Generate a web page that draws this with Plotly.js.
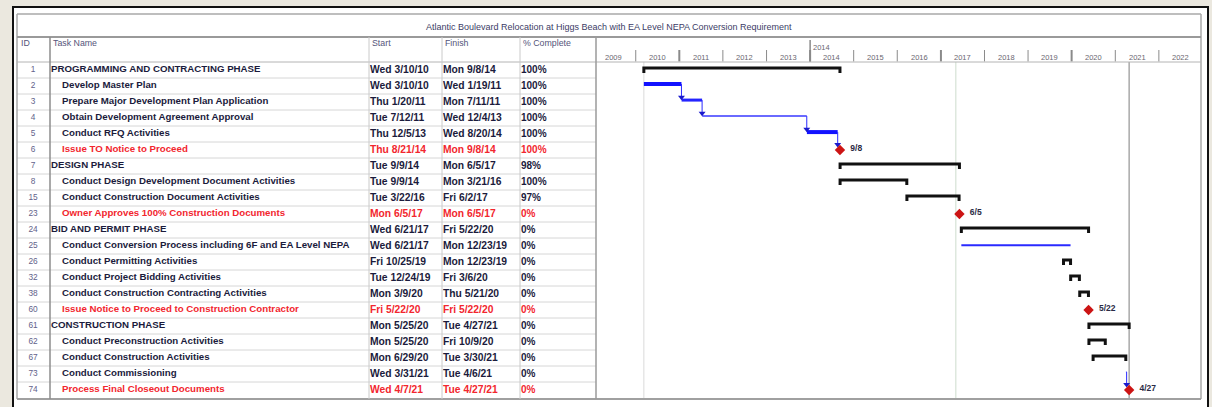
<!DOCTYPE html>
<html><head><meta charset="utf-8">
<script src="https://cdn.plot.ly/plotly-3.0.1.min.js"></script>
<style>html,body{margin:0;padding:0;background:#ebe8df;}#chart{width:1212px;height:407px;}</style>
</head><body><div id="chart"></div>
<script>
const W = 1212, H = 407;

const chartTitle = 'Atlantic Boulevard Relocation at Higgs Beach with EA Level NEPA Conversion Requirement';
const columnHeads = ['ID', 'Task Name', 'Start', 'Finish', '% Complete'];

const taskIds = [1, 2, 3, 4, 5, 6, 7, 8, 15, 23, 24, 25, 26, 32, 38, 60, 61, 62, 67, 73, 74];
const taskNames = [
  'PROGRAMMING AND CONTRACTING PHASE',
  'Develop Master Plan',
  'Prepare Major Development Plan Application',
  'Obtain Development Agreement Approval',
  'Conduct RFQ Activities',
  'Issue TO Notice to Proceed',
  'DESIGN PHASE',
  'Conduct Design Development Document Activities',
  'Conduct Construction Document Activities',
  'Owner Approves 100% Construction Documents',
  'BID AND PERMIT PHASE',
  'Conduct Conversion Process including 6F and EA Level NEPA',
  'Conduct Permitting Activities',
  'Conduct Project Bidding Activities',
  'Conduct Construction Contracting Activities',
  'Issue Notice to Proceed to Construction Contractor',
  'CONSTRUCTION PHASE',
  'Conduct Preconstruction Activities',
  'Conduct Construction Activities',
  'Conduct Commissioning',
  'Process Final Closeout Documents'
];
const startText = ['Wed 3/10/10','Wed 3/10/10','Thu 1/20/11','Tue 7/12/11','Thu 12/5/13','Thu 8/21/14','Tue 9/9/14','Tue 9/9/14','Tue 3/22/16','Mon 6/5/17','Wed 6/21/17','Wed 6/21/17','Fri 10/25/19','Tue 12/24/19','Mon 3/9/20','Fri 5/22/20','Mon 5/25/20','Mon 5/25/20','Mon 6/29/20','Wed 3/31/21','Wed 4/7/21'];
const finishText = ['Mon 9/8/14','Wed 1/19/11','Mon 7/11/11','Wed 12/4/13','Wed 8/20/14','Mon 9/8/14','Mon 6/5/17','Mon 3/21/16','Fri 6/2/17','Mon 6/5/17','Fri 5/22/20','Mon 12/23/19','Mon 12/23/19','Fri 3/6/20','Thu 5/21/20','Fri 5/22/20','Tue 4/27/21','Fri 10/9/20','Tue 3/30/21','Tue 4/6/21','Tue 4/27/21'];
const pctComplete = ['100%','100%','100%','100%','100%','100%','98%','100%','97%','0%','0%','0%','0%','0%','0%','0%','0%','0%','0%','0%','0%'];
const startDates = ['2010-03-10','2010-03-10','2011-01-20','2011-07-12','2013-12-05','2014-08-21','2014-09-09','2014-09-09','2016-03-22','2017-06-05','2017-06-21','2017-06-21','2019-10-25','2019-12-24','2020-03-09','2020-05-22','2020-05-25','2020-05-25','2020-06-29','2021-03-31','2021-04-07'];
const finishDates = ['2014-09-08','2011-01-19','2011-07-11','2013-12-04','2014-08-20','2014-09-08','2017-06-05','2016-03-21','2017-06-02','2017-06-05','2020-05-22','2019-12-23','2019-12-23','2020-03-06','2020-05-21','2020-05-22','2021-04-27','2020-10-09','2021-03-30','2021-04-06','2021-04-27'];
const taskKinds = ['summary','progress','progress','progress','progress','milestone','summary','task','task','milestone','summary','line','task','task','task','milestone','summary','task','task','stub','milestone'];
const taskLinks = [[1,2],[2,3],[3,4],[4,5],[19,20]];
const yearLabels = [2009,2010,2011,2012,2013,2014,2015,2016,2017,2018,2019,2020,2021,2022];
const topTierLabel = '2014';
const statusDate = '2017-05-06';

// ---- styling helpers ----
const px = x => x / W;
const py = y => 1 - y / H;
const FONT = 'Liberation Sans, Arial, sans-serif';
const navy = '#1b1b3c', red = '#f2262e';
const n = taskNames.length;
const rows = taskNames.map((_, i) => i);
const rowColor = taskKinds.map(k => k === 'milestone' ? red : navy);
const progressStyle = {1: {w: 4, c: '#1212ff'}, 2: {w: 3, c: '#2424ff'}, 3: {w: 2, c: '#6a6aff'}, 4: {w: 4, c: '#1212ff'}};

const traces = [];
function txt(xs, texts, pos, size, colors, bold) {
  traces.push({type: 'scatter', mode: 'text', xaxis: 'x2', yaxis: 'y', x: xs, y: rows,
    text: texts.map(t => bold ? '<b>' + t + '</b>' : t), textposition: pos,
    textfont: {family: FONT, size: size, color: colors}, hoverinfo: 'skip', cliponaxis: false});
}
txt(rows.map(() => 33), taskIds.map(String), 'middle center', 8.3, '#62628a', false);
txt(taskKinds.map(k => k === 'summary' ? 51 : 62), taskNames, 'middle right', 9.7, rowColor, true);
txt(rows.map(() => 370), startText, 'middle right', 10.3, rowColor, true);
txt(rows.map(() => 443), finishText, 'middle right', 10.3, rowColor, true);
txt(rows.map(() => 521), pctComplete, 'middle right', 10, rowColor, true);

// brackets for summary / task bars
const bx = [], by = [];
rows.forEach(i => {
  if (taskKinds[i] === 'summary' || taskKinds[i] === 'task') {
    bx.push(startDates[i], startDates[i], finishDates[i], finishDates[i], null);
    by.push(i + 0.18, i - 0.13, i - 0.13, i + 0.18, null);
  }
});
traces.push({type: 'scatter', mode: 'lines', x: bx, y: by, line: {color: '#111', width: 3}, hoverinfo: 'skip'});

// progress bars
rows.forEach(i => {
  if (taskKinds[i] === 'progress') {
    const s = progressStyle[i];
    traces.push({type: 'scatter', mode: 'lines', x: [startDates[i], finishDates[i]], y: [i - 0.12, i - 0.12],
      line: {color: s.c, width: s.w}, hoverinfo: 'skip'});
  }
  if (taskKinds[i] === 'line') {
    traces.push({type: 'scatter', mode: 'lines', x: [startDates[i], finishDates[i]], y: [i - 0.05, i - 0.05],
      line: {color: '#2a2aff', width: 2}, hoverinfo: 'skip'});
  }
  if (taskKinds[i] === 'stub') {
    traces.push({type: 'scatter', mode: 'lines', x: [startDates[i], finishDates[i]], y: [i - 0.12, i - 0.12],
      line: {color: '#5a5aff', width: 1.5}, hoverinfo: 'skip'});
  }
});

// dependency links
const lx = [], ly = [], ax = [], ay = [];
taskLinks.forEach(([a, b]) => {
  const end = taskKinds[b] === 'milestone' ? b - 0.35 : b - 0.3;
  lx.push(finishDates[a], finishDates[a], null);
  ly.push(a - 0.12, end, null);
  ax.push(finishDates[a]); ay.push(end);
});
traces.push({type: 'scatter', mode: 'lines', x: lx, y: ly, line: {color: '#2a2aff', width: 1}, hoverinfo: 'skip'});
traces.push({type: 'scatter', mode: 'markers', x: ax, y: ay, marker: {symbol: 'triangle-down', size: 6, color: '#1a1acc'}, hoverinfo: 'skip'});

// milestones
const mRows = rows.filter(i => taskKinds[i] === 'milestone');
traces.push({type: 'scatter', mode: 'markers', x: mRows.map(i => finishDates[i]), y: mRows.map(i => i),
  marker: {symbol: 'diamond', size: 8, color: '#cc1414'}, hoverinfo: 'skip'});
traces.push({type: 'scatter', mode: 'markers+text', x: mRows.map(i => finishDates[i]), y: mRows.map(i => i - 0.05),
  marker: {size: 15, opacity: 0},
  text: mRows.map(i => '<b>' + finishText[i].split(' ')[1].split('/').slice(0, 2).join('/') + '</b>'),
  textposition: 'middle right', textfont: {family: FONT, size: 8.5, color: '#2a2a44'}, hoverinfo: 'skip', cliponaxis: false});

// ---- shapes ----
const shapes = [];
const L = (x0, y0, x1, y1, color, width) => shapes.push({type: 'line', xref: 'paper', yref: 'paper',
  x0: px(x0), y0: py(y0), x1: px(x1), y1: py(y1), line: {color: color, width: width}});
shapes.push({type: 'rect', xref: 'paper', yref: 'paper', x0: px(13), y0: py(7), x1: px(1208), y1: py(440),
  fillcolor: '#ffffff', line: {color: '#111', width: 2}, layer: 'below'});
// row separators
for (let k = 1; k < n; k++) {
  shapes.push({type: 'line', xref: 'paper', yref: 'y', x0: px(17), x1: px(596), y0: k - 0.5, y1: k - 0.5,
    line: {color: '#d6d6d6', width: 1}, layer: 'below'});
}
L(17, 14, 1201, 14, '#a8a8a8', 1.5);
L(17, 14, 17, 399, '#a8a8a8', 1.5);
L(1201, 14, 1201, 399, '#a8a8a8', 1.5);
L(17, 37, 1201, 37, '#9a9a9a', 2);
L(17, 62, 1201, 62, '#b4b4b4', 1);
L(17, 399, 1201, 399, '#a0a0a0', 2);
L(50, 37, 50, 399, '#8c8c8c', 1.5);
[369, 442, 520].forEach(x => L(x, 37, x, 399, '#cacaca', 1));
L(596, 37, 596, 399, '#9a9a9a', 1.5);

// gantt vertical guides
const VL = (d, color, width, y0, y1) => shapes.push({type: 'line', xref: 'x', yref: 'paper', x0: d, x1: d,
  y0: py(y0), y1: py(y1), line: {color: color, width: width}, layer: 'below'});
VL(startDates[0], '#dadada', 1, 62, 399);
VL(statusDate, '#cddccd', 1, 62, 399);
VL(finishDates[n - 1], '#a9a9a9', 1.5, 62, 399);
// timescale ticks
yearLabels.slice(1).forEach(y => VL(y + '-01-01', '#8a8a8a', (y - 2011) % 3 === 0 ? 2 : 1, 50, 61.5));
VL(topTierLabel + '-01-01', '#8a8a8a', 1.5, 40, 62);

// ---- annotations ----
const ann = [];
ann.push({text: chartTitle, xref: 'paper', yref: 'paper', x: px(609), y: py(27), showarrow: false,
  font: {family: FONT, size: 9, color: '#3c3c66'}, xanchor: 'center', yanchor: 'middle'});
const headX = [19, 51, 370, 443, 521];
columnHeads.forEach((h, i) => ann.push({text: h, xref: 'paper', yref: 'paper', x: px(headX[i]), y: py(43.5),
  showarrow: false, xanchor: 'left', yanchor: 'middle', font: {family: FONT, size: 8.8, color: '#55557a'}}));
yearLabels.forEach(y => ann.push({text: String(y), xref: 'x', yref: 'paper', x: y + '-07-02', y: py(58),
  showarrow: false, xanchor: 'center', yanchor: 'middle', font: {family: FONT, size: 7.5, color: '#6a6670'}}));
ann.push({text: topTierLabel, xref: 'x', yref: 'paper', x: topTierLabel + '-01-01', xshift: 1, y: py(47),
  showarrow: false, xanchor: 'left', yanchor: 'middle', font: {family: FONT, size: 7.5, color: '#6a6670'}});

const layout = {
  width: W, height: H, margin: {l: 0, r: 0, t: 0, b: 0},
  paper_bgcolor: '#ebe8df', plot_bgcolor: 'rgba(0,0,0,0)', showlegend: false, hovermode: false,
  xaxis: {type: 'date', domain: [px(596), px(1201)], range: ['2009-02-02', '2022-12-20'], visible: false, fixedrange: true},
  xaxis2: {domain: [0, 1], range: [0, W], visible: false, fixedrange: true, anchor: 'y'},
  yaxis: {domain: [py(398), py(62)], range: [n - 0.5, -0.5], visible: false, fixedrange: true},
  shapes: shapes, annotations: ann
};
Plotly.newPlot('chart', traces, layout, {staticPlot: true, displayModeBar: false});
</script></body></html>
